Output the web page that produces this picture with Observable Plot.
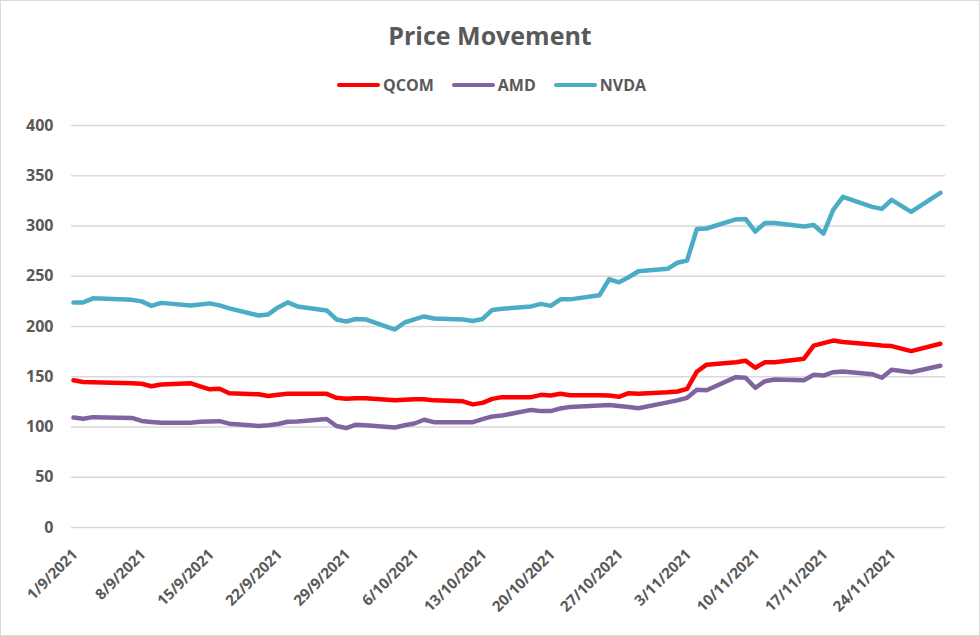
<!DOCTYPE html>
<html>
<head>
<meta charset="utf-8">
<script src="https://cdn.jsdelivr.net/npm/d3@7"></script>
<script src="https://cdn.jsdelivr.net/npm/@observablehq/plot@0.6"></script>
<style>
  body { margin: 0; background: #fff; }
  #chart { position: relative; width: 980px; height: 636px; overflow: hidden; font-family: "Open Sans", sans-serif; color: #595959; }
  #frame { position: absolute; left: 0; top: 0; width: 980px; height: 636px; box-sizing: border-box; border: 1px solid #d9d9d9; pointer-events: none; }
  #plot { position: absolute; left: 0; top: 0; }
  #title { position: absolute; top: 18px; left: 0; width: 980px; text-align: center; font-weight: bold; font-size: 25px; line-height: 34px; }
  #legend { position: absolute; top: 74px; left: 337px; display: flex; align-items: center; font-weight: bold; font-size: 16px; line-height: 22px; }
  .item { display: flex; align-items: center; margin-right: 18px; }
  .sw { width: 43px; height: 4.5px; border-radius: 3px; margin-right: 3px; }
</style>
</head>
<body>
<div id="chart">
  <div id="plot"></div>
  <div id="title">Price Movement</div>
  <div id="legend"></div>
  <div id="frame"></div>
</div>
<script>
const tickers = ["QCOM", "AMD", "NVDA"];
const colors = ["#FF0000", "#8064A2", "#4BACC6"];

const dates = [
  "2021-09-01","2021-09-02","2021-09-03","2021-09-07","2021-09-08","2021-09-09","2021-09-10",
  "2021-09-13","2021-09-14","2021-09-15","2021-09-16","2021-09-17",
  "2021-09-20","2021-09-21","2021-09-22","2021-09-23","2021-09-24",
  "2021-09-27","2021-09-28","2021-09-29","2021-09-30",
  "2021-10-01","2021-10-04","2021-10-05","2021-10-06","2021-10-07","2021-10-08",
  "2021-10-11","2021-10-12","2021-10-13","2021-10-14","2021-10-15",
  "2021-10-18","2021-10-19","2021-10-20","2021-10-21","2021-10-22",
  "2021-10-25","2021-10-26","2021-10-27","2021-10-28","2021-10-29",
  "2021-11-01","2021-11-02","2021-11-03","2021-11-04","2021-11-05",
  "2021-11-08","2021-11-09","2021-11-10","2021-11-11","2021-11-12",
  "2021-11-15","2021-11-16","2021-11-17","2021-11-18","2021-11-19",
  "2021-11-22","2021-11-23","2021-11-24","2021-11-26","2021-11-29"
];

const qcom = [
  146.5,144.8,144.5,143.5,143,140.6,142.3,143.6,140.5,137.5,138,133.6,132.5,130.8,132,133,133,133,129,128,128.5,
  128.5,126.5,127,127.5,127.5,126.5,125.5,122.5,124,128,129.7,129.7,132,131.3,133,131.5,131.5,131.3,130,133.6,133,
  134.5,135.3,138,155,162,164.5,166,159,164.5,164.5,168,181,183.5,186,184.5,182,181,180.5,175.5,182.8
];
const amd = [
  109.5,108.3,109.8,109,106,105,104.2,104.2,105.3,105.5,105.8,103.3,101,101.8,103,105.2,105.5,108,101,99,102.3,
  101.8,99.5,101.8,103.5,107.2,104.8,104.8,104.8,107.8,110.5,111.4,117,115.8,115.8,118.5,120,121.5,122,121,120,118.7,
  124.5,126.5,129,137,136.5,149.6,149,139,145.6,147.3,146.5,152,151.2,154.5,155.3,152.5,149,157,154.5,161
];
const nvda = [
  224,224,228,226.5,225,220.5,223.5,221,222,223,221,218,211,212,219,224,220,216,207,205,207.5,
  207,197,204,207,210,208,207,205.5,207.5,216.5,217.6,220,222.5,220.5,227,227,231,247,244,249,255,
  257.4,263.4,265.7,297,297.5,306.5,307,294.5,303,303,299.5,301,292.5,316,329,319,317,326,314,333
];

const yTicks = [0, 50, 100, 150, 200, 250, 300, 350, 400];
const xTickDates = [
  "2021-09-01","2021-09-08","2021-09-15","2021-09-22","2021-09-29","2021-10-06","2021-10-13",
  "2021-10-20","2021-10-27","2021-11-03","2021-11-10","2021-11-17","2021-11-24"
];

const parse = d3.utcParse("%Y-%m-%d");
const fmt = d3.utcFormat("%-d/%-m/%Y");
const series = [qcom, amd, nvda];
const rows = [];
tickers.forEach((t, i) => {
  dates.forEach((d, j) => rows.push({date: parse(d), ticker: t, price: series[i][j]}));
});
const xTicks = xTickDates.map(parse);

const day = 864e5;
const first = parse(dates[0]);
const last = parse(dates[dates.length - 1]);

const chart = Plot.plot({
  width: 980,
  height: 636,
  marginTop: 125,
  marginBottom: 109,
  marginLeft: 71,
  marginRight: 35,
  style: {fontFamily: "'Open Sans', sans-serif", background: "transparent", color: "#595959"},
  x: {type: "utc", domain: [new Date(+first - 0.2 * day), new Date(+last + 0.53 * day)], axis: null},
  y: {domain: [0, 400], axis: null},
  color: {domain: tickers, range: colors},
  marks: [
    Plot.ruleY(yTicks, {y: d => d, stroke: "#d9d9d9", strokeWidth: 1.3}),
    Plot.text(yTicks, {y: d => d, text: d => String(d), frameAnchor: "left", textAnchor: "end", dx: -18,
      fill: "#595959", fontSize: 16, fontWeight: "bold"}),
    Plot.text(xTicks, {x: d => d, text: d => fmt(d), frameAnchor: "bottom", rotate: -45, textAnchor: "end",
      dx: 5, dy: 28, fill: "#595959", fontSize: 15, fontWeight: "bold"}),
    Plot.lineY(rows, {x: "date", y: "price", z: "ticker", stroke: "ticker", strokeWidth: 4.5,
      strokeLinejoin: "round", strokeLinecap: "round"})
  ]
});
document.getElementById("plot").appendChild(chart);

const legend = document.getElementById("legend");
tickers.forEach((t, i) => {
  const item = document.createElement("div");
  item.className = "item";
  const sw = document.createElement("div");
  sw.className = "sw";
  sw.style.background = colors[i];
  const lab = document.createElement("span");
  lab.textContent = t;
  item.appendChild(sw);
  item.appendChild(lab);
  legend.appendChild(item);
});
</script>
</body>
</html>
